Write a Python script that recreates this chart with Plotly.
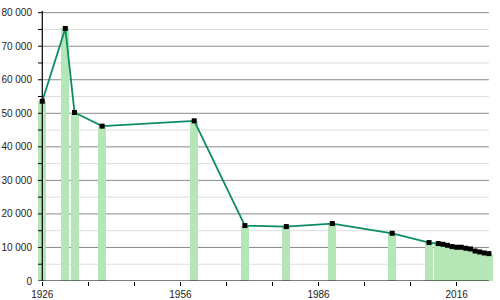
import plotly.graph_objects as go

years = [1926, 1931, 1933, 1939, 1959, 1970, 1979, 1989, 2002, 2010,
         2012, 2013, 2014, 2015, 2016, 2017, 2018, 2019, 2020, 2021, 2022, 2023]
population = [53600, 75300, 50250, 46170, 47750, 16530, 16230, 17130, 14230, 11460,
              11160, 10950, 10650, 10260, 10060, 10060, 9760, 9550, 8950, 8660, 8360, 8160]

x_tick_vals = list(range(1926, 2017, 10))
x_tick_text = [str(v) if (v - 1926) % 30 == 0 else "" for v in x_tick_vals]
y_tick_vals = list(range(0, 80001, 10000))
y_tick_text = ["0"] + [f"{v // 1000} 000" for v in y_tick_vals[1:]]
minor_vals = list(range(5000, 80000, 10000))

X0, X1 = 1926, 2023
XMIN, XMAX = 1925.07, 2024.11

fig = go.Figure()
fig.add_trace(go.Bar(x=years, y=population, width=1.74,
                     marker=dict(color="#b5e6b5", line=dict(width=0)),
                     hoverinfo="skip"))
fig.add_trace(go.Scatter(x=years, y=population, mode="lines+markers",
                         line=dict(color="#0b8c66", width=1.8),
                         marker=dict(symbol="square", size=5, color="black"),
                         cliponaxis=False, hoverinfo="skip"))

shapes = []
for v in minor_vals:
    shapes.append(dict(type="line", xref="x", yref="y", x0=X0, x1=X1, y0=v, y1=v,
                       line=dict(color="#dddddd", width=1), layer="below"))
for v in y_tick_vals[1:]:
    shapes.append(dict(type="line", xref="x", yref="y", x0=X0, x1=X1, y0=v, y1=v,
                       line=dict(color="#8a8a8a", width=1), layer="below"))
for v in list(range(0, 80001, 5000)):
    shapes.append(dict(type="line", xref="x", yref="y", x0=XMIN, x1=X0, y0=v, y1=v,
                       line=dict(color="black", width=1)))
shapes.append(dict(type="line", xref="x", yref="y", x0=X0, x1=X0, y0=0, y1=80500,
                   line=dict(color="black", width=1.2)))
shapes.append(dict(type="line", xref="x", yref="y", x0=X0, x1=X1, y0=0, y1=0,
                   line=dict(color="black", width=1.2)))

font = dict(family="Liberation Sans, Arial, sans-serif", size=10, color="#222222")
fig.update_layout(
    width=500, height=300,
    margin=dict(l=38, r=6, t=11, b=19, pad=0),
    plot_bgcolor="white", paper_bgcolor="white",
    showlegend=False, bargap=0, font=font,
    shapes=shapes,
    xaxis=dict(range=[XMIN, XMAX], tickvals=x_tick_vals, ticktext=x_tick_text,
               ticks="outside", ticklen=4, tickcolor="black", showgrid=False,
               showline=False, zeroline=False, tickfont=font, automargin=False),
    yaxis=dict(range=[0, 80500], tickvals=y_tick_vals, ticktext=y_tick_text,
               ticks="outside", ticklen=3, tickcolor="rgba(0,0,0,0)", showgrid=False,
               showline=False, zeroline=False, tickfont=font, automargin=False),
)
fig.write_html("out.html")
